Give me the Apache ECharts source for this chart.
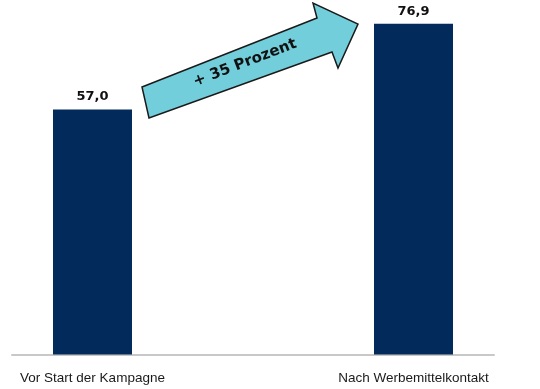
<!DOCTYPE html>
<html>
<head>
<meta charset="utf-8">
<script src="https://cdn.jsdelivr.net/npm/echarts@6/dist/echarts.min.js"></script>
<style>
  html, body { margin: 0; padding: 0; background: #fff; }
  #chart { width: 540px; height: 389px; }
</style>
</head>
<body>
<div id="chart"></div>
<script>
var categories = ['Vor Start der Kampagne', 'Nach Werbemittelkontakt'];
var values = [57.0, 76.9];
var arrowText = '+ 35 Prozent';

var chart = echarts.init(document.getElementById('chart'));

// arrow shape (annotation, not data)
var arrowPoints = [[142, 87], [317, 18], [313, 3], [358, 24], [338, 68], [332, 52], [149, 118]];

chart.setOption({
  animation: false,
  grid: [
    { left: -68, width: 642, bottom: 34.5, top: 10.5, outerBoundsMode: 'none' },
    { left: 12, right: 46, bottom: 34.5, height: 10, outerBoundsMode: 'none' }
  ],
  xAxis: [{
    type: 'category',
    data: categories,
    gridIndex: 0,
    axisLine: { show: false },
    axisTick: { show: false },
    axisLabel: {
      margin: 17,
      color: '#1a1a1a',
      fontSize: 13.5,
      fontFamily: 'Liberation Sans'
    }
  }, {
    type: 'value',
    gridIndex: 1,
    axisLine: { show: true, onZero: false, lineStyle: { color: '#c8c8c8', width: 2 } },
    axisTick: { show: false },
    axisLabel: { show: false },
    splitLine: { show: false }
  }],
  yAxis: [{
    type: 'value',
    gridIndex: 0,
    min: 0,
    max: 80,
    show: false
  }, {
    type: 'value',
    gridIndex: 1,
    show: false
  }],
  series: [{
    type: 'bar',
    data: values,
    barWidth: 79,
    itemStyle: { color: '#022b5c' },
    label: {
      show: true,
      position: 'top',
      distance: 6,
      color: '#111',
      fontSize: 13,
      fontWeight: 'bold',
      fontFamily: 'DejaVu Sans',
      formatter: function (p) { return p.value.toFixed(1).replace('.', ','); }
    }
  }],
  graphic: [{
    type: 'polygon',
    shape: { points: arrowPoints },
    style: { fill: '#72cedb', stroke: '#1a1a1a', lineWidth: 1.5 },
    z: 10
  }, {
    type: 'text',
    x: 245,
    y: 63,
    rotation: 21 * Math.PI / 180,
    style: {
      text: arrowText,
      fill: '#111',
      font: 'bold 15px "DejaVu Sans"',
      textAlign: 'center',
      textVerticalAlign: 'middle'
    },
    z: 11
  }]
});
</script>
</body>
</html>
